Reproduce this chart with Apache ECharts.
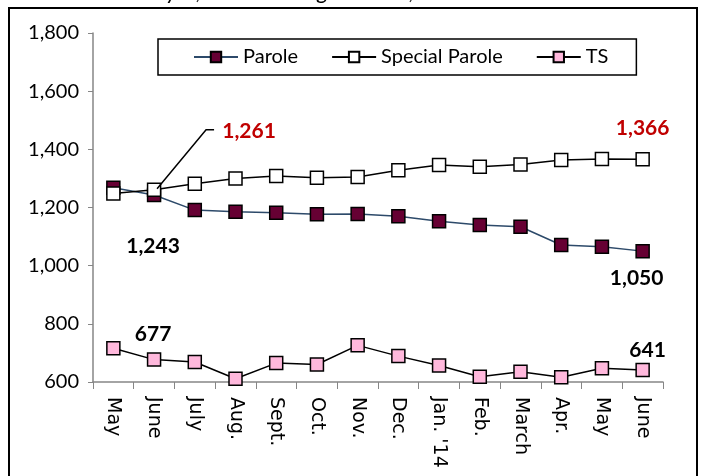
<!DOCTYPE html>
<html>
<head>
<meta charset="utf-8">
<script src="https://cdn.jsdelivr.net/npm/echarts@6/dist/echarts.min.js"></script>
<style>
  html, body { margin: 0; padding: 0; background: #fff; }
  #main { width: 702px; height: 476px; }
</style>
</head>
<body>
<div id="main"></div>
<script>
// data
var months = ['May', 'June', 'July', 'Aug.', 'Sept.', 'Oct.', 'Nov.', 'Dec.', "Jan. '14", 'Feb.', 'March', 'Apr.', 'May', 'June'];
var parole = [1268, 1243, 1191, 1185, 1182, 1177, 1178, 1170, 1153, 1140, 1134, 1071, 1065, 1050];
var specialParole = [1248, 1261, 1282, 1300, 1308, 1302, 1305, 1328, 1346, 1340, 1348, 1363, 1367, 1366];
var ts = [716, 677, 669, 611, 665, 660, 726, 689, 657, 618, 635, 616, 647, 641];
var yTicks = [600, 800, 1000, 1200, 1400, 1600, 1800];

var FONT = 'Lato';
var chart = echarts.init(document.getElementById('main'));

function fmt(v) {
	return Number(v).toLocaleString('en-US');
}

// put a bold value label on some points of a series
function withLabels(values, labels) {
	return values.map(function(v, i) {
		if (!labels[i]) return v;
		return {
			value : v,
			label : {
				show : true,
				position : 'inside',
				offset : labels[i].offset,
				color : labels[i].color || '#000',
				fontFamily : FONT,
				fontWeight : 'bold',
				fontSize : 21,
				formatter : function(p) { return fmt(p.value); }
			}
		};
	});
}

function lineSeries(name, data, fill, lineColor) {
	return {
		name : name,
		type : 'line',
		data : data,
		symbol : 'rect',
		symbolSize : 13,
		showAllSymbol : true,
		lineStyle : { color : lineColor, width : 1.5 },
		itemStyle : { color : fill, borderColor : '#000', borderWidth : 1.5 },
		emphasis : { disabled : true },
		animation : false
	};
}

var option = {
	animation : false,
	grid : { left : 93, right : 39, top : 33, bottom : 94 },
	legend : {
		left : 158,
		top : 39,
		padding : [8, 28, 8, 35],
		itemGap : 33,
		itemWidth : 44,
		itemHeight : 13,
		borderColor : '#000',
		borderWidth : 1.5,
		textStyle : { fontFamily : FONT, fontSize : 20, color : '#000' },
		data : ['Parole', 'Special Parole', 'TS']
	},
	xAxis : {
		type : 'category',
		data : months,
		boundaryGap : true,
		axisLine : { lineStyle : { color : '#868686', width : 1.5 } },
		axisTick : { show : true, interval : 0, length : 7, lineStyle : { color : '#868686' } },
		axisLabel : { interval : 0, rotate : -90, margin : 15, fontFamily : 'DejaVu Sans', fontSize : 19, color : '#000' },
		splitLine : { show : false }
	},
	yAxis : {
		type : 'value',
		min : yTicks[0],
		max : yTicks[yTicks.length - 1],
		interval : 200,
		axisLine : { show : true, lineStyle : { color : '#868686', width : 1.5 } },
		axisTick : { show : true, length : 5, lineStyle : { color : '#868686' } },
		axisLabel : { margin : 14, fontFamily : FONT, fontSize : 20, color : '#000', formatter : fmt },
		splitLine : { show : false }
	},
	series : [
		lineSeries('Parole', withLabels(parole, {
			1 : { offset : [-1, 51] },
			13 : { offset : [-6, 27] }
		}), '#660033', '#2d4a6a'),
		lineSeries('Special Parole', withLabels(specialParole, {
			1 : { offset : [95, -59], color : '#c00000' },
			13 : { offset : [0, -31], color : '#c00000' }
		}), '#ffffff', '#000'),
		lineSeries('TS', withLabels(ts, {
			1 : { offset : [-1, -25] },
			13 : { offset : [5, -20] }
		}), '#ffb8dc', '#000')
	]
};
chart.setOption(option);

// outer frame, cut-off subtitle and leader line for the 1,261 label
var p = chart.convertToPixel({ seriesIndex : 1 }, [1, specialParole[1]]);
chart.setOption({
	graphic : [
		{
			type : 'rect',
			shape : { x : 9, y : 8, width : 688, height : 520 },
			style : { fill : 'none', stroke : '#000', lineWidth : 2 },
			silent : true
		},
		{
			type : 'text',
			x : 304,
			y : 3,
			style : {
				text : 'May 1, 2013 through June 1, 2014',
				fontFamily : FONT,
				fontStyle : 'italic',
				fontSize : 23,
				fill : '#000',
				align : 'center',
				verticalAlign : 'bottom'
			},
			silent : true
		},
		{
			type : 'polyline',
			shape : { points : [[p[0] + 3, p[1] - 1], [p[0] + 52, p[1] - 60], [p[0] + 60, p[1] - 60]] },
			style : { stroke : '#000', lineWidth : 1.5, fill : 'none' },
			z : 10,
			silent : true
		}
	]
});
</script>
</body>
</html>
